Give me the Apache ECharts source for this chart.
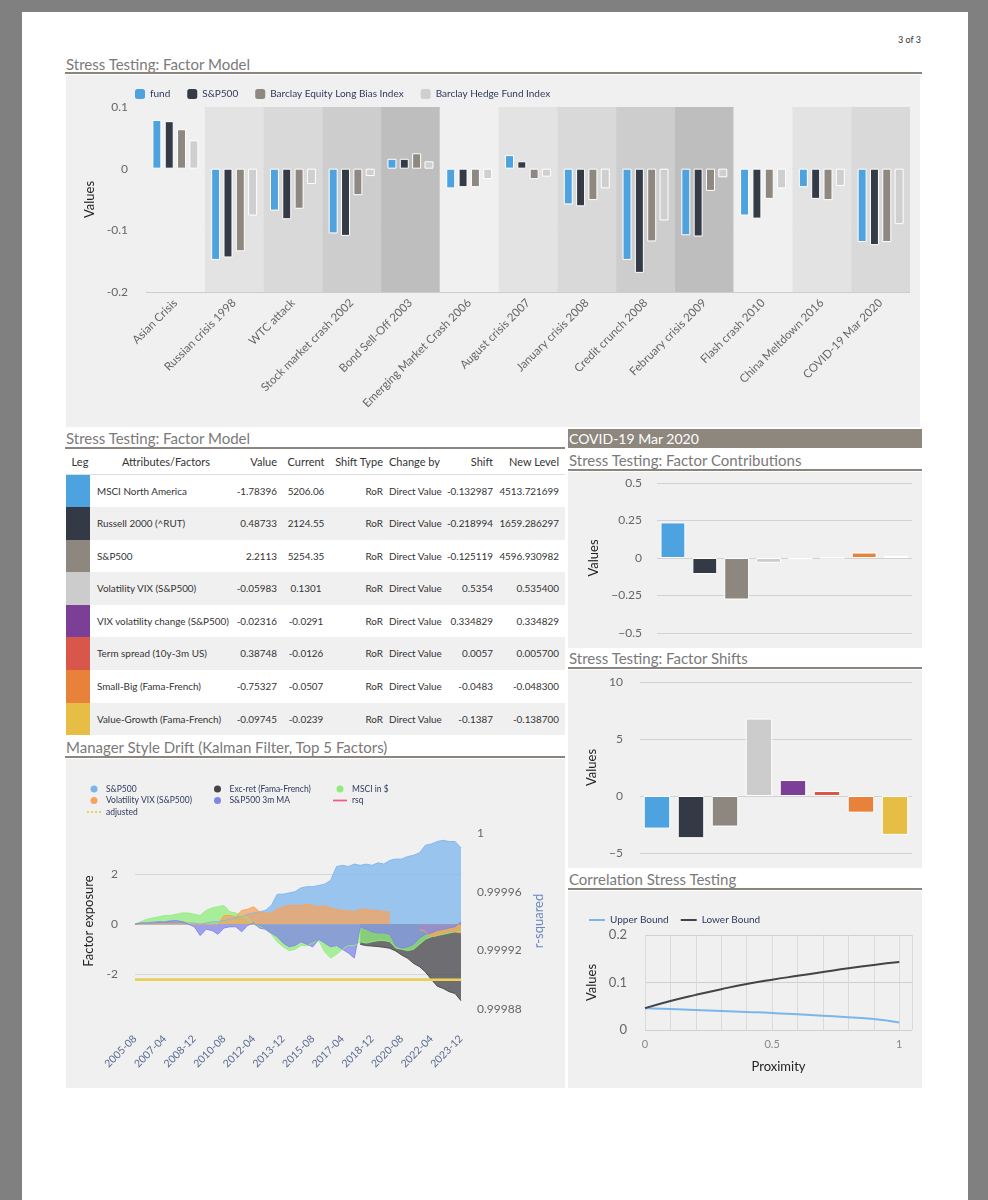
<!DOCTYPE html>
<html>
<head>
<meta charset="utf-8">
<script src="https://cdn.jsdelivr.net/npm/echarts@6/dist/echarts.min.js"></script>
<style>
html,body{margin:0;padding:0;}
body{width:988px;height:1200px;background:#808080;position:relative;overflow:hidden;font-family:Lato,"Open Sans",sans-serif;}
#page{position:absolute;left:22px;top:12px;width:946px;height:1200px;background:#ffffff;}
.title{position:absolute;font-size:15px;line-height:16px;color:#7a7a7a;white-space:nowrap;}
.rule{position:absolute;height:2px;background:#8b857d;}
.panel{position:absolute;background:#f0f0f0;}
.chart{position:absolute;}
.cell{position:absolute;white-space:nowrap;color:#333;}
</style>
</head>
<body>
<div id="page"></div>
<div class="title" style="left:898px;top:35px;font-size:9px;line-height:10px;color:#333;">3 of 3</div>

<div class="title" style="left:66px;top:56px;">Stress Testing: Factor Model</div>
<div class="rule" style="left:65px;top:72px;width:857px;"></div>
<div class="panel" style="left:66px;top:75px;width:854px;height:352px;"></div>
<div id="c1" class="chart" style="left:66px;top:75px;width:854px;height:352px;"></div>

<div class="title" style="left:66px;top:430px;">Stress Testing: Factor Model</div>
<div class="rule" style="left:65px;top:447px;width:500px;"></div>
<div id="tbl"></div>

<div class="title" style="left:66px;top:739px;">Manager Style Drift (Kalman Filter, Top 5 Factors)</div>
<div class="rule" style="left:65px;top:756px;width:500px;"></div>
<div class="panel" style="left:66px;top:759px;width:499px;height:329px;"></div>
<div id="c5" class="chart" style="left:66px;top:759px;width:499px;height:329px;"></div>

<div style="position:absolute;left:568px;top:429px;width:354px;height:19px;background:#8d877e;color:#fff;font-size:14px;line-height:19px;padding-left:1px;box-sizing:border-box;white-space:nowrap;">COVID-19 Mar 2020</div>
<div class="title" style="left:569px;top:452px;">Stress Testing: Factor Contributions</div>
<div class="rule" style="left:568px;top:469px;width:354px;"></div>
<div class="panel" style="left:568px;top:472px;width:354px;height:176px;"></div>
<div id="c2" class="chart" style="left:568px;top:472px;width:354px;height:176px;"></div>

<div class="title" style="left:569px;top:650px;">Stress Testing: Factor Shifts</div>
<div class="rule" style="left:568px;top:667px;width:354px;"></div>
<div class="panel" style="left:568px;top:670px;width:354px;height:198px;"></div>
<div id="c3" class="chart" style="left:568px;top:670px;width:354px;height:198px;"></div>

<div class="title" style="left:569px;top:871px;">Correlation Stress Testing</div>
<div class="rule" style="left:568px;top:888px;width:354px;"></div>
<div class="panel" style="left:568px;top:891px;width:354px;height:197px;"></div>
<div id="c4" class="chart" style="left:568px;top:891px;width:354px;height:197px;"></div>

<script>
// ---------- Stress test by crisis ----------
const crisisNames = ['Asian Crisis','Russian crisis 1998','WTC attack','Stock market crash 2002','Bond Sell-Off 2003','Emerging Market Crash 2006','August crisis 2007','January crisis 2008','Credit crunch 2008','February crisis 2009','Flash crash 2010','China Meltdown 2016','COVID-19 Mar 2020'];
const fundVals  = [0.079,-0.148,-0.068,-0.105,0.016,-0.032,0.022,-0.058,-0.148,-0.108,-0.076,-0.030,-0.119];
const spxVals   = [0.077,-0.144,-0.082,-0.109,0.016,-0.030,0.012,-0.061,-0.169,-0.110,-0.081,-0.049,-0.124];
const barEqVals = [0.064,-0.134,-0.065,-0.043,0.025,-0.030,-0.017,-0.051,-0.118,-0.036,-0.049,-0.051,-0.119];
const barHfVals = [0.046,-0.076,-0.025,-0.012,0.012,-0.017,-0.013,-0.032,-0.084,-0.014,-0.032,-0.028,-0.090];
const crisisSeriesNames = ['fund','S&P500','Barclay Equity Long Bias Index','Barclay Hedge Fund Index'];

// ---------- Factor table ----------
const factorNames = ['MSCI North America','Russell 2000 (^RUT)','S&P500','Volatility VIX (S&P500)','VIX volatility change (S&P500)','Term spread (10y-3m US)','Small-Big (Fama-French)','Value-Growth (Fama-French)'];
const factorValue = ['-1.78396','0.48733','2.2113','-0.05983','-0.02316','0.38748','-0.75327','-0.09745'];
const factorCurrent = ['5206.06','2124.55','5254.35','0.1301','-0.0291','-0.0126','-0.0507','-0.0239'];
const factorShiftType = ['RoR','RoR','RoR','RoR','RoR','RoR','RoR','RoR'];
const factorChangeBy = ['Direct Value','Direct Value','Direct Value','Direct Value','Direct Value','Direct Value','Direct Value','Direct Value'];
const factorShift = ['-0.132987','-0.218994','-0.125119','0.5354','0.334829','0.0057','-0.0483','-0.1387'];
const factorNewLevel = ['4513.721699','1659.286297','4596.930982','0.535400','0.334829','0.005700','-0.048300','-0.138700'];
const tableHeaders = ['Leg','Attributes/Factors','Value','Current','Shift Type','Change by','Shift','New Level'];

// ---------- COVID-19 factor charts ----------
const contribVals = [0.2372,-0.1067,-0.2767,-0.0320,-0.0078,0.0022,0.0364,0.0135];
const shiftVals = [-2.86,-3.70,-2.68,6.79,1.40,0.44,-1.46,-3.41];

// ---------- Correlation stress ----------
const proximity = [0,0.1,0.2,0.3,0.4,0.5,0.6,0.7,0.8,0.9,1];
const upperBound = [0.046,0.044,0.042,0.040,0.038,0.036,0.033,0.030,0.027,0.023,0.016];
const lowerBound = [0.046,0.061,0.074,0.086,0.097,0.106,0.114,0.122,0.130,0.137,0.143];

// ---------- Style drift ----------
const driftMonths = ['2005-08','2005-12','2006-04','2006-08','2006-12','2007-04','2007-08','2007-12','2008-04','2008-08','2008-12','2009-04','2009-08','2009-12','2010-04','2010-08','2010-12','2011-04','2011-08','2011-12','2012-04','2012-08','2012-12','2013-04','2013-08','2013-12','2014-04','2014-08','2014-12','2015-04','2015-08','2015-12','2016-04','2016-08','2016-12','2017-04','2017-08','2017-12','2018-04','2018-08','2018-12','2019-04','2019-08','2019-12','2020-04','2020-08','2020-12','2021-04','2021-08','2021-12','2022-04','2022-08','2022-12','2023-04','2023-08','2023-12'];
const spxExposure = [0.0,0.05,0.05,0.1,0.1,0.1,0.15,0.1,0.1,0.05, 0.05,0.0,0.05,0.1,0.1,0.15,0.2,0.25,0.3,0.4, 0.45,0.5,0.55,0.75,1.2,1.2,1.25,1.3,1.45,1.5, 1.5,1.55,1.6,1.75,2.3,2.35,2.3,2.4,2.35,2.4, 2.35,2.45,2.4,2.55,2.6,2.6,2.7,2.75,2.85,3.15, 3.2,3.3,3.35,3.3,3.3,3.05];
const excretExposure = [null,null,null,null,null,null,null,null,null,null, null,null,null,null,null,null,null,null,null,null, null,null,null,null,null,null,null,null,null,null, null,null,null,null,null,null,null,null,-0.8,-0.85, -0.87,-0.89,-0.92,-0.96,-1.07,-1.23,-1.36,-1.56,-1.69,-1.9, -2.2,-2.47,-2.56,-2.69,-2.76,-3.05];
const msciExposure = [0.02,0.1,0.2,0.25,0.3,0.35,0.35,0.4,0.45,0.45, 0.4,0.35,0.55,0.65,0.7,0.75,0.5,0.45,0.35,0.25, 0.0,-0.1,-0.2,-0.4,-0.7,-0.9,-1.05,-1.0,-0.85,-0.85, -0.75,-0.65,-1.1,-1.35,-1.2,-1.0,-0.85,-0.85,-0.7,-0.75, -0.7,-0.65,-0.65,-0.7,-0.95,-1.0,-1.05,-1.0,-0.8,-0.6, -0.5,-0.45,-0.4,-0.35,-0.3,-0.3];
const vixExposure = [0.0,0.02,0.03,0.03,0.02,0.03,0.05,0.03,0.02,0.02, 0.0,0.0,0.0,0.0,0.0,0.35,0.35,0.3,0.55,0.6, 0.7,0.5,0.45,0.45,0.6,0.7,0.75,0.75,0.75,0.8, 0.75,0.7,0.75,0.65,0.6,0.55,0.55,0.5,0.6,0.6, 0.55,0.55,0.5,0.5,null,null,null,null,-0.2,-0.3, -0.5,-0.45,-0.35,-0.3,-0.3,-0.35];
const ma3Exposure = [0.0,0.05,0.05,0.05,0.1,0.08,0.12,0.15,0.1,0.0, -0.1,-0.45,-0.2,-0.25,-0.4,-0.15,-0.1,-0.1,-0.3,-0.05, 0.05,-0.15,-0.2,-0.35,-0.5,-0.75,-0.9,-0.85,-0.7,-0.8, -0.9,-0.6,-0.75,-0.9,-0.85,-1.0,-1.15,-1.35,-0.1,-0.2, -0.3,-0.35,-0.35,-0.4,-0.85,-0.95,-0.9,-0.8,-0.55,-0.4, -0.35,-0.25,-0.2,-0.15,-0.1,0.1];
const rsqEnds = [['2005-08',0.9999],['2023-12',0.9999]];
const adjustedEnds = [['2005-08',0.9999],['2023-12',0.9999]];
const exposureTicks = [-2,0,2];
const rsqTicks = [0.99988,0.99992,0.99996,1];

// ---------- styles ----------
const FONT = 'Lato';
const crisisColors = ['#4ea3de','#343b46','#8e8880','#cfcfcf'];
const bandColors = ['#f0f0f0','#e3e3e3','#d9d9d9','#cdcdcd','#bebebe'];
const factorColors = ['#4da3df','#333a45','#8d8780','#cccccc','#7c3f98','#d9574a','#e8823a','#e6be45'];
const legendText = {fontFamily: FONT, fontSize: 10, color: '#2e3a5c'};
const LINE_ICON = 'path://M0,0 L16,0 L16,2 L0,2 Z';
const DOT_ICON = 'path://M0,0h2v2h-2z M4,0h2v2h-2z M8,0h2v2h-2z M12,0h2v2h-2z';

// ---------- table ----------
(function(){
  const tbl = document.getElementById('tbl');
  const cols = [
    {l:66, w:24, a:'center'},
    {l:90, w:142, a:'left', p:'0 0 0 7px'},
    {l:232, w:48, a:'right', p:'0 3px 0 0'},
    {l:280, w:52, a:'center'},
    {l:332, w:54, a:'right', p:'0 3px 0 0'},
    {l:386, w:59, a:'left', p:'0 0 0 3px'},
    {l:445, w:51, a:'right', p:'0 3px 0 0'},
    {l:496, w:69, a:'right', p:'0 6px 0 0'}
  ];
  const hdrCols = [
    {l:66, w:28, a:'center'},
    {l:90, w:152, a:'center'},
    cols[2], cols[3], cols[4], cols[5], cols[6], cols[7]
  ];
  function add(html){ tbl.insertAdjacentHTML('beforeend', html); }
  tableHeaders.forEach((h,i)=>{
    const c = hdrCols[i];
    add(`<div class="cell" style="left:${c.l}px;top:449px;width:${c.w}px;height:25px;line-height:25px;font-size:11px;text-align:${c.a};box-sizing:border-box;padding:${c.p||0};">${h}</div>`);
  });
  add(`<div style="position:absolute;left:66px;top:474px;width:499px;height:1px;background:#dedede;"></div>`);
  const rowH = 32.56, top0 = 474.6;
  factorNames.forEach((name,r)=>{
    const top = top0 + r*rowH;
    const bg = r%2===1 ? '#f0f0f0' : '#ffffff';
    add(`<div style="position:absolute;left:66px;top:${top}px;width:499px;height:${rowH}px;background:${bg};"></div>`);
    add(`<div style="position:absolute;left:66px;top:${top}px;width:24px;height:${rowH}px;background:${factorColors[r]};"></div>`);
    const vals = [name, factorValue[r], factorCurrent[r], factorShiftType[r], factorChangeBy[r], factorShift[r], factorNewLevel[r]];
    vals.forEach((v,i)=>{
      const c = cols[i+1];
      add(`<div class="cell" style="left:${c.l}px;top:${top}px;width:${c.w}px;height:${rowH}px;line-height:${rowH}px;font-size:9.9px;text-align:${c.a};box-sizing:border-box;padding:${c.p||0};">${v}</div>`);
    });
  });
})();

// ---------- chart 1: crisis bars ----------
const c1 = echarts.init(document.getElementById('c1'), null, {renderer:'canvas'});
c1.setOption({
  animation:false,
  textStyle:{fontFamily:FONT},
  legend:{left:64, top:9, itemWidth:10, itemHeight:10, itemGap:17, icon:'roundRect',
    itemStyle:{borderWidth:0}, textStyle:legendText, data:crisisSeriesNames},
  grid:{left:80, right:10, top:32, bottom:135, outerBoundsMode:'none'},
  xAxis:{type:'category', data:crisisNames,
    axisLine:{show:false}, axisTick:{show:false},
    splitArea:{show:true, areaStyle:{color:bandColors}},
    axisLabel:{rotate:45, interval:0, margin:9, fontSize:11.5, color:'#666', fontFamily:FONT}},
  yAxis:{type:'value', min:-0.2, max:0.1, interval:0.1, name:'Values', nameLocation:'middle', nameGap:48,
    nameTextStyle:{fontSize:13, color:'#222', fontFamily:FONT},
    axisLabel:{margin:18, fontSize:12, color:'#666', fontFamily:FONT, formatter:v=>(Math.abs(v)<1e-9?'0':(Math.round(v*10)/10).toString())},
    splitLine:{lineStyle:{color:'#cdcdcd'}}, axisLine:{show:false}, axisTick:{show:false}},
  series:[fundVals, spxVals, barEqVals, barHfVals].map((d,i)=>({
    name:crisisSeriesNames[i], type:'bar', data:d, barWidth:9, barGap:'37%',
    itemStyle:{color:crisisColors[i], borderColor:'#ffffff', borderWidth:1}
  }))
});

// ---------- chart 2/3: factor contributions & shifts ----------
function factorBarOption(vals, yMin, yMax, yInt, grid, labelMargin, nameGap, fmt){
  return {
    animation:false,
    textStyle:{fontFamily:FONT},
    grid:Object.assign({outerBoundsMode:'none'}, grid),
    xAxis:{type:'category', data:factorNames, show:false},
    yAxis:{type:'value', min:yMin, max:yMax, interval:yInt, name:'Values', nameLocation:'middle', nameGap:nameGap,
      nameTextStyle:{fontSize:13, color:'#222', fontFamily:FONT},
      axisLabel:{margin:labelMargin, fontSize:12, color:'#666', fontFamily:FONT, formatter:fmt},
      splitLine:{lineStyle:{color:'#d2d2d2'}}, axisLine:{show:false}, axisTick:{show:false}},
    series:[{type:'bar', data:vals, barCategoryGap:'22%',
      itemStyle:{color:p=>factorColors[p.dataIndex], borderColor:'#ffffff', borderWidth:1}}]
  };
}
const c2 = echarts.init(document.getElementById('c2'));
c2.setOption(factorBarOption(contribVals, -0.5, 0.5, 0.25, {left:89, right:10, top:11, bottom:15}, 15, 56,
  v=>{ if (Math.abs(v)<1e-9) return '0'; return (Math.round(v*100)/100).toString().replace('-','\u2212'); }));
const c3 = echarts.init(document.getElementById('c3'));
c3.setOption(factorBarOption(shiftVals, -5, 10, 5, {left:72, right:10, top:12, bottom:15}, 17, 41,
  v=>String(v).replace('-','\u2212')));

// ---------- chart 4: correlation ----------
const c4 = echarts.init(document.getElementById('c4'));
c4.setOption({
  animation:false,
  textStyle:{fontFamily:FONT},
  legend:{left:16, top:19, itemWidth:16, itemHeight:8, itemGap:12, textStyle:legendText,
    data:[{name:'Upper Bound', icon:LINE_ICON},{name:'Lower Bound', icon:LINE_ICON}]},
  grid:{left:77, right:10, top:44, bottom:58, outerBoundsMode:'none'},
  xAxis:{type:'value', min:0, max:1.05, interval:0.1, name:'Proximity', nameLocation:'middle', nameGap:30,
    nameTextStyle:{fontSize:13, color:'#222', fontFamily:FONT},
    axisLabel:{customValues:[0,0.5,1], margin:9, fontSize:11, color:'#888', fontFamily:FONT, formatter:v=>String(v)},
    splitLine:{show:true, lineStyle:{color:'#dadada'}}, axisLine:{show:false}, axisTick:{show:false}},
  yAxis:{type:'value', min:0, max:0.2, interval:0.1, name:'Values', nameLocation:'middle', nameGap:46,
    nameTextStyle:{fontSize:13, color:'#222', fontFamily:FONT},
    axisLabel:{margin:18, fontSize:13, color:'#666', fontFamily:FONT, formatter:v=>(Math.abs(v)<1e-9?'0':(Math.round(v*10)/10).toString())},
    splitLine:{lineStyle:{color:'#cfcfcf'}}, axisLine:{show:false}, axisTick:{show:false}},
  series:[
    {name:'Upper Bound', type:'line', smooth:true, symbol:'none', data:proximity.map((x,i)=>[x, upperBound[i]]),
      lineStyle:{color:'#7cb5ec', width:2}, itemStyle:{color:'#7cb5ec'}},
    {name:'Lower Bound', type:'line', smooth:true, symbol:'none', data:proximity.map((x,i)=>[x, lowerBound[i]]),
      lineStyle:{color:'#434348', width:2}, itemStyle:{color:'#434348'}}
  ]
});

// ---------- chart 5: style drift ----------
const driftColors = {spx:'#7cb5ec', exc:'#434348', msci:'#90ed7d', vix:'#f7a35c', ma:'#8085e9', rsq:'#f15c80', adj:'#e4d354'};
function areaSeries(name, data, color){
  return {name, type:'line', data, symbol:'none', connectNulls:false,
    lineStyle:{width:1, color, opacity:0.9}, itemStyle:{color}, areaStyle:{color, opacity:0.75}};
}
const driftLegendText = {fontFamily:FONT, fontSize:8.5, color:'#2e3a5c', lineHeight:10};
const c5 = echarts.init(document.getElementById('c5'));
c5.setOption({
  animation:false,
  textStyle:{fontFamily:FONT},
  legend:[
    {left:16, top:20, orient:'vertical', itemWidth:14, itemHeight:7, itemGap:1.5, textStyle:driftLegendText,
      data:[{name:'S&P500', icon:'circle'},{name:'Volatility VIX (S&P500)', icon:'circle'},{name:'adjusted', icon:DOT_ICON}]},
    {left:143, top:20, orient:'vertical', itemWidth:14, itemHeight:7, itemGap:1.5, textStyle:driftLegendText,
      data:[{name:'Exc-ret (Fama-French)', icon:'circle'},{name:'S&P500 3m MA', icon:'circle'}]},
    {left:262, top:20, orient:'vertical', itemWidth:14, itemHeight:7, itemGap:1.5, textStyle:driftLegendText,
      data:[{name:'MSCI in $', icon:'circle'},{name:'rsq', icon:LINE_ICON}]}
  ],
  grid:{left:69, right:104, top:74, bottom:79, outerBoundsMode:'none'},
  xAxis:{type:'category', data:driftMonths, boundaryGap:false,
    axisLine:{show:true, lineStyle:{color:'#d3d3d3'}}, axisTick:{show:false},
    axisLabel:{rotate:45, interval:4, margin:28, fontSize:10.5, color:'#5b6b90', fontFamily:FONT}},
  yAxis:[
    {type:'value', min:-3.38, max:3.64, name:'Factor exposure', nameLocation:'middle', nameGap:38,
      nameTextStyle:{fontSize:13, color:'#222', fontFamily:FONT},
      axisLabel:{customValues:exposureTicks, margin:17, fontSize:12, color:'#666', fontFamily:FONT, formatter:v=>String(v)},
      axisTick:{show:false, customValues:exposureTicks},
      splitLine:{show:true, lineStyle:{color:'#d6d6d6'}}, axisLine:{show:false}},
    {type:'value', position:'right', min:0.99988, max:1, name:'r-squared', nameLocation:'middle', nameGap:64,
      nameTextStyle:{fontSize:13, color:'#6a86c0', fontFamily:FONT},
      axisLabel:{customValues:rsqTicks, margin:16, fontSize:12, color:'#666', fontFamily:FONT,
        formatter:v=>(Math.abs(v-1)<1e-9?'1':v.toFixed(5))},
      axisTick:{show:false}, splitLine:{show:false}, axisLine:{show:false}}
  ],
  series:[
    areaSeries('S&P500', spxExposure, driftColors.spx),
    areaSeries('Exc-ret (Fama-French)', excretExposure, driftColors.exc),
    areaSeries('MSCI in $', msciExposure, driftColors.msci),
    areaSeries('Volatility VIX (S&P500)', vixExposure, driftColors.vix),
    areaSeries('S&P500 3m MA', ma3Exposure, driftColors.ma),
    {name:'rsq', type:'line', yAxisIndex:1, symbol:'none', data:rsqEnds, lineStyle:{color:driftColors.rsq, width:2}, itemStyle:{color:driftColors.rsq}},
    {name:'adjusted', type:'line', yAxisIndex:1, symbol:'none', data:adjustedEnds, lineStyle:{color:driftColors.adj, width:2.5}, itemStyle:{color:driftColors.adj}}
  ]
});
</script>
</body>
</html>
